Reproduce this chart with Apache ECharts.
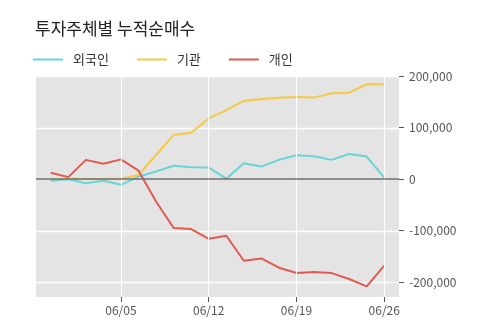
<!DOCTYPE html>
<html>
<head>
<meta charset="utf-8">
<script src="https://cdn.jsdelivr.net/npm/echarts@6/dist/echarts.min.js"></script>
<style>
  html, body { margin: 0; padding: 0; background: #fff; }
  #chart { width: 500px; height: 323px; }
</style>
</head>
<body>
<div id="chart"></div>
<script>
// trading days 06/01 .. 06/26
var dates = ['06/01','06/02','06/03','06/04','06/05',
             '06/08','06/09','06/10','06/11','06/12',
             '06/15','06/16','06/17','06/18','06/19',
             '06/22','06/23','06/24','06/25','06/26'];
var foreign = [-3000, 0, -8000, -3000, -11000, 5000, 15000, 26000, 23000, 22500,
               1000, 31000, 24500, 37500, 46500, 44500, 37500, 49000, 44000, 3000];
var institution = [0, 1000, 500, 500, 1000, 8000, 47000, 86000, 90000, 118000,
                   134000, 152000, 156000, 158000, 159500, 158500, 167000, 168000, 184500, 184500];
var individual = [12500, 4000, 37500, 30000, 38500, 16500, -43500, -95000, -97000, -116000,
                  -110000, -158500, -154000, -172000, -182500, -180500, -182500, -194000, -208500, -168000];
var yTicks = [-200000, -100000, 0, 100000, 200000];
var xTickIdx = [4, 9, 14, 19];

var X_MIN = -0.84, X_MAX = 19.84;
var Y_MIN = -229000, Y_MAX = 200500;

function pairs(arr) {
  return arr.map(function (v, i) { return [i, v]; });
}

function markSeries(name, items, color, width, z) {
  return {
    name: name, type: 'line', data: [], z: z, silent: true,
    markLine: {
      silent: true, symbol: 'none', label: { show: false }, animation: false,
      lineStyle: { color: color, width: width, type: 'solid' },
      data: items
    }
  };
}

// horizontal white grid lines, placed through the y scale
var hGridSeries = {
  name: 'hgrid', type: 'custom', silent: true, z: 1,
  data: yTicks.filter(function (v) { return v !== 0; }).map(function (v) { return [0, v]; }),
  renderItem: function (params, api) {
    var cs = params.coordSys;
    var y = Math.round(api.coord([0, api.value(1)])[1]) + 0.5;
    return {
      type: 'line', silent: true,
      shape: { x1: cs.x, y1: y, x2: cs.x + cs.width, y2: y },
      style: { stroke: '#ffffff', lineWidth: 1.5 }
    };
  }
};

var chart = echarts.init(document.getElementById('chart'));
var font = '"Noto Sans CJK KR", "Noto Sans", sans-serif';
var option = {
  animation: false,
  textStyle: { fontFamily: font },
  title: {
    text: '투자주체별 누적순매수',
    left: 30,
    top: 15,
    textStyle: { fontFamily: font, fontSize: 17, fontWeight: 'normal', color: '#222' }
  },
  legend: {
    left: 28,
    top: 48,
    icon: 'rect',
    itemWidth: 30,
    itemHeight: 2,
    itemGap: 28,
    textStyle: { fontFamily: font, fontSize: 13, color: '#333', padding: [0, 0, 0, 5] },
    data: ['외국인', '기관', '개인']
  },
  grid: {
    left: 36,
    right: 101,
    top: 76,
    bottom: 26,
    show: true,
    backgroundColor: '#e4e4e4',
    borderWidth: 0
  },
  xAxis: {
    type: 'value',
    min: X_MIN,
    max: X_MAX,
    axisLine: { show: false, onZero: false },
    axisTick: { show: true, length: 5, customValues: xTickIdx, lineStyle: { color: '#555' } },
    axisLabel: {
      customValues: xTickIdx,
      color: '#555',
      fontSize: 12,
      margin: 7,
      formatter: function (v) { return dates[Math.round(v)]; }
    },
    splitLine: { show: false }
  },
  yAxis: {
    type: 'value',
    position: 'right',
    min: Y_MIN,
    max: Y_MAX,
    axisLine: { show: false, onZero: false },
    axisTick: { show: true, length: 5, customValues: yTicks, lineStyle: { color: '#555' } },
    axisLabel: {
      customValues: yTicks,
      color: '#555',
      fontSize: 12,
      margin: 10,
      formatter: function (v) { return v.toLocaleString('en-US'); }
    },
    splitLine: { show: false }
  },
  series: [
    hGridSeries,
    markSeries('vgrid', xTickIdx.map(function (i) { return { xAxis: i }; }), '#ffffff', 1.2, 1),
    markSeries('zero', [{ yAxis: 0 }], '#707070', 1.5, 2),
    {
      name: '외국인', type: 'line', data: pairs(foreign), color: '#67d4d6',
      showSymbol: false, symbol: 'none', lineStyle: { width: 2 }, z: 3
    },
    {
      name: '기관', type: 'line', data: pairs(institution), color: '#f6c944',
      showSymbol: false, symbol: 'none', lineStyle: { width: 2 }, z: 3
    },
    {
      name: '개인', type: 'line', data: pairs(individual), color: '#df5a50',
      showSymbol: false, symbol: 'none', lineStyle: { width: 2 }, z: 3
    }
  ]
};
chart.setOption(option);
</script>
</body>
</html>
